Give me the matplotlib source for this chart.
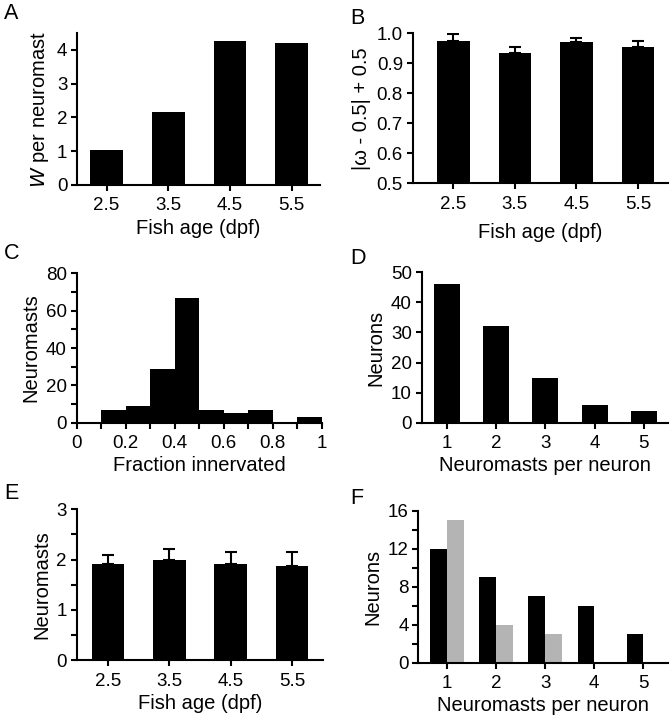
import numpy as np
import matplotlib
matplotlib.use("Agg")
import matplotlib.pyplot as plt
from matplotlib.ticker import MultipleLocator

plt.rcParams["font.family"] = ["Liberation Sans", "DejaVu Sans"]
plt.rcParams["axes.linewidth"] = 1.5
plt.rcParams["xtick.major.width"] = 1.5
plt.rcParams["ytick.major.width"] = 1.5
plt.rcParams["xtick.minor.width"] = 1.5
plt.rcParams["ytick.minor.width"] = 1.5
plt.rcParams["xtick.major.size"] = 4.5
plt.rcParams["ytick.major.size"] = 4.5
plt.rcParams["xtick.minor.size"] = 4.5
plt.rcParams["ytick.minor.size"] = 4.5
plt.rcParams["xtick.labelsize"] = 13.5
plt.rcParams["ytick.labelsize"] = 13.5

# --- data ---
ages = [2.5, 3.5, 4.5, 5.5]
w_per_neuromast = [1.04, 2.15, 4.25, 4.20]

omega_mean = [0.975, 0.933, 0.970, 0.954]
omega_err = [0.024, 0.022, 0.013, 0.019]

frac_edges = [0.0, 0.1, 0.2, 0.3, 0.4, 0.5, 0.6, 0.7, 0.8, 0.9, 1.0]
frac_counts = [0, 7, 9, 29, 67, 7, 5, 7, 0, 3]

per_neuron = [1, 2, 3, 4, 5]
neurons_d = [46, 32, 15, 6, 4]

neuromasts_mean = [1.91, 1.99, 1.91, 1.88]
neuromasts_err = [0.18, 0.23, 0.25, 0.28]

neurons_f_black = [12, 9, 7, 6, 3]
neurons_f_gray = [15, 4, 3, 0, 0]

BLACK = "black"
GRAY = "#b4b4b4"
LAB = 14.5


def style(ax):
    ax.spines["top"].set_visible(False)
    ax.spines["right"].set_visible(False)
    ax.tick_params(axis="x", direction="out", pad=4.5)
    ax.tick_params(axis="y", direction="out", pad=2.5)


fig = plt.figure(figsize=(6.7, 7.2), dpi=100)

# A
axA = fig.add_axes([0.1149, 0.7431, 0.3627, 0.2111])
axA.bar(ages, w_per_neuromast, width=0.53, color=BLACK)
axA.set_xlim(2.02, 5.96)
axA.set_ylim(0, 4.5)
axA.set_yticks([0, 1, 2, 3, 4])
axA.set_xticks(ages)
axA.set_xticklabels(["2.5", "3.5", "4.5", "5.5"])
axA.set_xlabel("Fish age (dpf)", fontsize=LAB, labelpad=3)
axA.set_ylabel("$\\mathit{W}$ per neuromast", fontsize=LAB)
style(axA)

# B
axB = fig.add_axes([0.616, 0.7454, 0.381, 0.2083])
axB.bar(ages, omega_mean, width=0.53, color=BLACK, bottom=0)
axB.errorbar(ages, omega_mean, yerr=[np.zeros(len(ages)), omega_err],
             fmt="none", ecolor=BLACK, elinewidth=1.5, capsize=4, capthick=1.5)
axB.set_xlim(1.84, 5.99)
axB.set_ylim(0.5, 1.0)
axB.set_yticks([0.5, 0.6, 0.7, 0.8, 0.9, 1.0])
axB.set_yticklabels(["0.5", "0.6", "0.7", "0.8", "0.9", "1.0"])
axB.set_xticks(ages)
axB.set_xticklabels(["2.5", "3.5", "4.5", "5.5"])
axB.set_xlabel("Fish age (dpf)", fontsize=LAB, labelpad=7)
axB.set_ylabel("|ω - 0.5| + 0.5", fontsize=LAB)
style(axB)

# C
axC = fig.add_axes([0.1145, 0.4129, 0.3657, 0.2075])
axC.bar(frac_edges[:-1], frac_counts, width=np.diff(frac_edges), align="edge",
        color=BLACK)
axC.set_xlim(0, 1)
axC.set_ylim(0, 80)
axC.set_yticks([0, 20, 40, 60, 80])
axC.yaxis.set_minor_locator(MultipleLocator(10))
axC.set_xticks([0, 0.2, 0.4, 0.6, 0.8, 1.0])
axC.set_xticklabels(["0", "0.2", "0.4", "0.6", "0.8", "1"])
axC.xaxis.set_minor_locator(MultipleLocator(0.1))
axC.set_xlabel("Fraction innervated", fontsize=LAB, labelpad=3)
axC.set_ylabel("Neuromasts", fontsize=LAB)
style(axC)

# D
axD = fig.add_axes([0.6294, 0.4129, 0.3676, 0.2089])
axD.bar(per_neuron, neurons_d, width=0.53, color=BLACK)
axD.set_xlim(0.49, 5.49)
axD.set_ylim(0, 50)
axD.set_yticks([0, 10, 20, 30, 40, 50])
axD.set_xticks(per_neuron)
axD.set_xlabel("Neuromasts per neuron", fontsize=LAB, labelpad=3)
axD.set_ylabel("Neurons", fontsize=LAB)
style(axD)

# E
axE = fig.add_axes([0.1145, 0.0833, 0.368, 0.2093])
axE.bar(ages, neuromasts_mean, width=0.53, color=BLACK)
axE.errorbar(ages, neuromasts_mean, yerr=[np.zeros(len(ages)), neuromasts_err],
             fmt="none", ecolor=BLACK, elinewidth=1.5, capsize=4, capthick=1.5)
axE.set_xlim(1.99, 6.01)
axE.set_ylim(0, 3)
axE.set_yticks([0, 1, 2, 3])
axE.yaxis.set_minor_locator(MultipleLocator(0.5))
axE.set_xticks(ages)
axE.set_xticklabels(["2.5", "3.5", "4.5", "5.5"])
axE.set_xlabel("Fish age (dpf)", fontsize=LAB, labelpad=3)
axE.set_ylabel("Neuromasts", fontsize=LAB)
style(axE)

# F
axF = fig.add_axes([0.6243, 0.0796, 0.3727, 0.2107])
x = np.array(per_neuron)
axF.bar(x - 0.17, neurons_f_black, width=0.34, color=BLACK)
axF.bar(x + 0.17, neurons_f_gray, width=0.34, color=GRAY)
axF.set_xlim(0.42, 5.5)
axF.set_ylim(0, 16)
axF.set_yticks([0, 4, 8, 12, 16])
axF.yaxis.set_minor_locator(MultipleLocator(2))
axF.set_xticks(per_neuron)
axF.set_xlabel("Neuromasts per neuron", fontsize=LAB, labelpad=3)
axF.set_ylabel("Neurons", fontsize=LAB)
style(axF)

# panel letters
for lbl, (px, py) in zip("ABCDEF", [(4, 3), (350, 8), (4, 243), (350, 248),
                                     (4, 483), (350, 488)]):
    fig.text(px / 670, 1 - py / 720, lbl, fontsize=15.5, va="top", ha="left")

fig.savefig("out.png", dpi=100)
